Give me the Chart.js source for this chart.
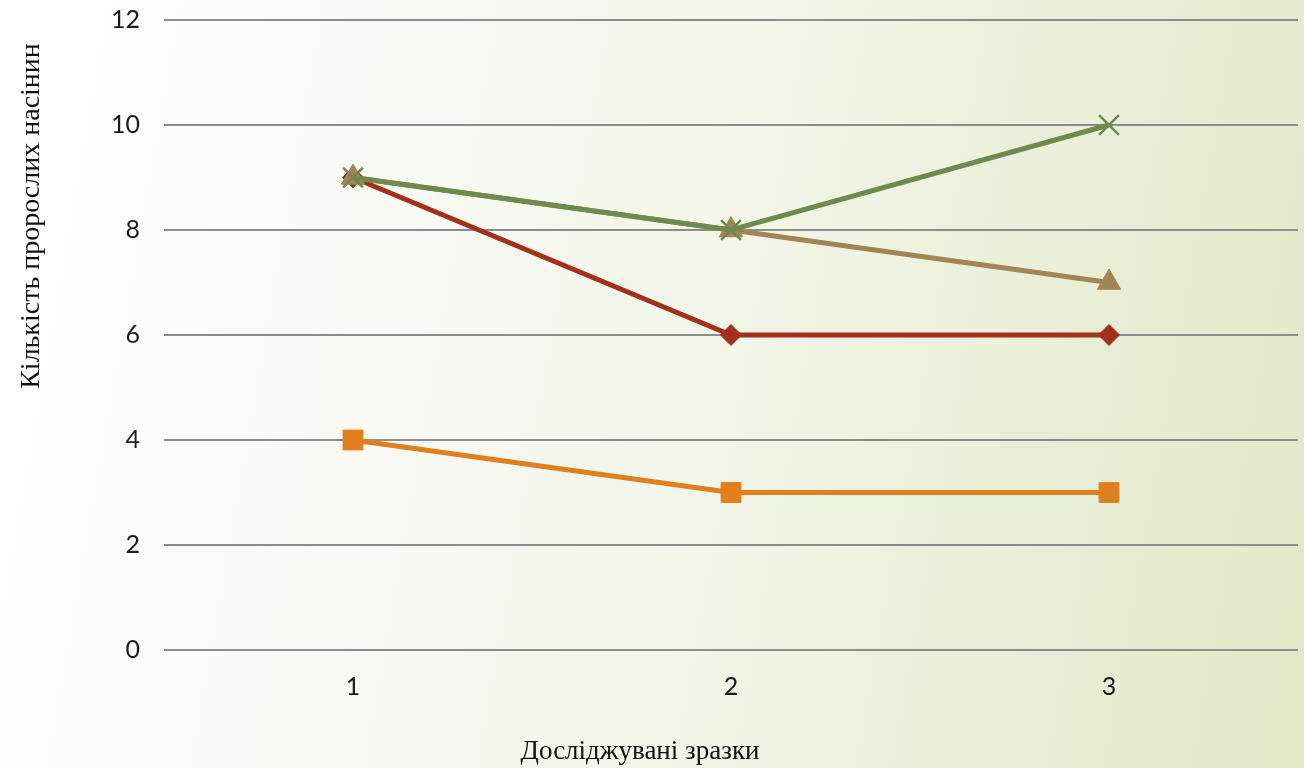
<!DOCTYPE html>
<html>
<head>
<meta charset="utf-8">
<script src="https://cdn.jsdelivr.net/npm/chart.js@4/dist/chart.umd.min.js"></script>
<style>
  html, body { margin: 0; padding: 0; width: 1304px; height: 768px; overflow: hidden; }
  body { background: linear-gradient(100deg, #ffffff 0%, #fafbf6 25%, #f2f5e8 55%, #e8eed6 80%, #e1e9c8 100%); }
  #wrap { position: relative; width: 1304px; height: 768px; }
</style>
</head>
<body>
<div id="wrap"><canvas id="c" width="1304" height="768"></canvas></div>
<script>
const categories = ['1', '2', '3'];
const seriesGreen = [9, 8, 10];
const seriesTan = [9, 8, 7];
const seriesRed = [9, 6, 6];
const seriesOrange = [4, 3, 3];
const yTicks = [0, 2, 4, 6, 8, 10, 12];
const xTitle = 'Досліджувані зразки';
const yTitle = 'Кількість пророслих насінин';

const serif = '"Liberation Serif", "Times New Roman", serif';
const tickFont = { family: 'Lato, "DejaVu Sans", sans-serif', size: 25 };

function line(data, color, style, radius) {
  return {
    data: data,
    borderColor: color,
    backgroundColor: color,
    pointBackgroundColor: color,
    pointBorderColor: color,
    borderWidth: 5,
    pointStyle: style,
    pointRadius: radius,
    pointHoverRadius: radius,
    pointBorderWidth: style === 'crossRot' ? 2.5 : 1,
    tension: 0,
    fill: false
  };
}

// Axis titles placed freely, off-centre like the original slide
const axisTitles = {
  id: 'axisTitles',
  afterDraw(chart) {
    const ctx = chart.ctx;
    ctx.save();
    ctx.fillStyle = '#111';
    ctx.textAlign = 'center';
    ctx.textBaseline = 'middle';
    ctx.font = '27px ' + serif;
    ctx.fillText(xTitle, 640, 752);
    ctx.translate(32, 216);
    ctx.rotate(-Math.PI / 2);
    ctx.font = '28px ' + serif;
    ctx.fillText(yTitle, 0, 0);
    ctx.restore();
  }
};

new Chart(document.getElementById('c'), {
  type: 'line',
  data: {
    labels: categories,
    datasets: [
      line(seriesGreen, '#6f8a4f', 'crossRot', 14),
      line(seriesTan, '#a38453', 'triangle', 13.5),
      line(seriesRed, '#a3301a', 'rectRot', 10.5),
      line(seriesOrange, '#e17f1c', 'rect', 14)
    ]
  },
  plugins: [axisTitles],
  options: {
    responsive: false,
    animation: false,
    devicePixelRatio: 1,
    layout: { autoPadding: false, padding: { top: 20, right: 6, left: 0, bottom: 0 } },
    plugins: { legend: { display: false }, tooltip: { enabled: false } },
    scales: {
      x: {
        offset: true,
        grid: { display: false, drawTicks: false },
        border: { display: false },
        ticks: { color: '#1a1a1a', font: tickFont, padding: 22 },
        afterFit: (axis) => { axis.height = 118; axis.paddingLeft = 0; axis.paddingRight = 0; }
      },
      y: {
        min: 0,
        max: 12,
        afterBuildTicks: (axis) => { axis.ticks = yTicks.map(v => ({ value: v })); },
        grid: { color: '#8c8c8c', lineWidth: 2, drawTicks: false },
        border: { display: false },
        ticks: { color: '#1a1a1a', font: tickFont, padding: 24 },
        afterFit: (axis) => { axis.width = 164; axis.paddingTop = 0; axis.paddingBottom = 0; }
      }
    }
  }
});
</script>
</body>
</html>
